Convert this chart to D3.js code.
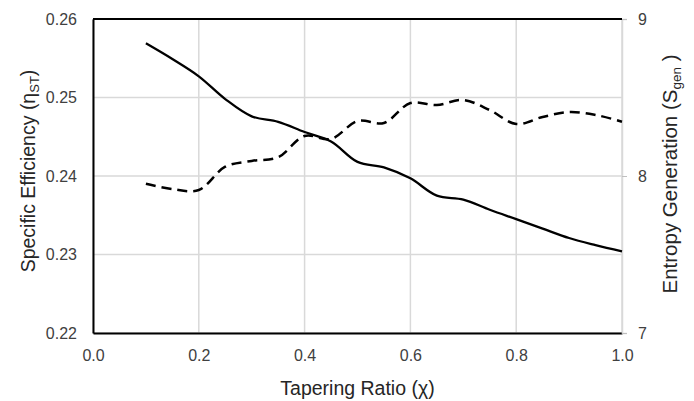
<!DOCTYPE html>
<html>
<head>
<meta charset="utf-8">
<script src="https://cdn.jsdelivr.net/npm/d3@7/dist/d3.min.js"></script>
<style>
  body { margin: 0; background: #fff; }
  svg text { font-family: "Liberation Sans", Arial, sans-serif; }
</style>
</head>
<body>
<div id="canvas"></div>
<script>
// tapering ratio values
var ratio = [0.1, 0.15, 0.2, 0.25, 0.3, 0.35, 0.4, 0.45, 0.5, 0.55, 0.6, 0.65, 0.7, 0.75, 0.8, 0.85, 0.9, 0.95, 1.0];
// specific efficiency (left axis, solid)
var efficiency = [0.2569, 0.2549, 0.2527, 0.2498, 0.2476, 0.2469, 0.2456, 0.2444, 0.2418, 0.2411, 0.2397, 0.2375, 0.2370, 0.2357, 0.2345, 0.2333, 0.2321, 0.2312, 0.2304];
// entropy generation (right axis, dashed)
var entropy = [7.951, 7.917, 7.911, 8.059, 8.096, 8.120, 8.255, 8.236, 8.350, 8.338, 8.465, 8.452, 8.484, 8.420, 8.331, 8.376, 8.408, 8.389, 8.346];

var xTicks = [0, 0.2, 0.4, 0.6, 0.8, 1.0];
var leftTicks = [0.22, 0.23, 0.24, 0.25, 0.26];
var rightTicks = [7, 8, 9];

var margin = {top: 19, right: 72, bottom: 68, left: 93};
var width = 694 - margin.left - margin.right;
var height = 401 - margin.top - margin.bottom;

var svg = d3.select("#canvas")
            .append("svg")
                .attr("width", 694)
                .attr("height", 401)
            .append("g")
                .attr("transform", "translate(" + margin.left + "," + margin.top + ")");

var xScale = d3.scaleLinear().domain([0, 1]).range([0, width]);
var yLeft = d3.scaleLinear().domain([0.22, 0.26]).range([height, 0]);
var yRight = d3.scaleLinear().domain([7, 9]).range([height, 0]);

// gridlines
svg.append("g")
    .selectAll("line")
    .data(xTicks)
    .enter().append("line")
    .attr("x1", function(d) { return xScale(d); })
    .attr("x2", function(d) { return xScale(d); })
    .attr("y1", 0)
    .attr("y2", height)
    .style("stroke", "#d9d9d9")
    .style("stroke-width", 1.5);

svg.append("g")
    .selectAll("line")
    .data(leftTicks)
    .enter().append("line")
    .attr("x1", 0)
    .attr("x2", width)
    .attr("y1", function(d) { return yLeft(d); })
    .attr("y2", function(d) { return yLeft(d); })
    .style("stroke", "#d9d9d9")
    .style("stroke-width", 1.5);

// x axis
var xAxis = d3.axisBottom(xScale)
    .tickValues(xTicks)
    .tickSize(0)
    .tickPadding(17)
    .tickFormat(d3.format(".1f"));

var gx = svg.append("g")
    .attr("class", "x axis")
    .attr("transform", "translate(0," + height + ")")
    .call(xAxis);
gx.select(".domain").style("stroke", "#000").style("stroke-width", 2);
gx.selectAll("text").attr("font-size", "16px").attr("fill", "#404040");

// left axis
var yAxisL = d3.axisLeft(yLeft)
    .tickValues(leftTicks)
    .tickSize(0)
    .tickPadding(16)
    .tickFormat(d3.format(".2f"));

var gl = svg.append("g")
    .attr("class", "y axis")
    .call(yAxisL);
gl.select(".domain").style("stroke", "#000").style("stroke-width", 2);
gl.selectAll("text").attr("font-size", "16px").attr("fill", "#404040");

// right axis
var yAxisR = d3.axisRight(yRight)
    .tickValues(rightTicks)
    .tickSize(5)
    .tickPadding(11)
    .tickFormat(d3.format("d"));

var gr = svg.append("g")
    .attr("class", "y axis right")
    .attr("transform", "translate(" + width + ",0)")
    .call(yAxisR);
gr.select(".domain").style("stroke", "#d9d9d9").style("stroke-width", 1.5);
gr.selectAll(".tick line").style("stroke", "#bfbfbf");
gr.selectAll("text").attr("font-size", "16px").attr("fill", "#404040");

// top border
svg.append("line")
    .attr("x1", 0)
    .attr("x2", width)
    .attr("y1", 0)
    .attr("y2", 0)
    .style("stroke", "#000")
    .style("stroke-width", 2);

// lines
var pts = ratio.map(function(r, i) { return {x: r, e: efficiency[i], s: entropy[i]}; });

var effLine = d3.line()
    .curve(d3.curveCatmullRom)
    .x(function(d) { return xScale(d.x); })
    .y(function(d) { return yLeft(d.e); });

var entLine = d3.line()
    .curve(d3.curveCatmullRom)
    .x(function(d) { return xScale(d.x); })
    .y(function(d) { return yRight(d.s); });

svg.append("path")
    .datum(pts)
    .attr("d", entLine)
    .style("fill", "none")
    .style("stroke", "#000")
    .style("stroke-width", 2.5)
    .style("stroke-dasharray", "10,6");

svg.append("path")
    .datum(pts)
    .attr("d", effLine)
    .style("fill", "none")
    .style("stroke", "#000")
    .style("stroke-width", 2.3);

// axis titles
svg.append("text")
    .attr("x", width / 2)
    .attr("y", height + 62)
    .style("text-anchor", "middle")
    .attr("font-size", "19.5px")
    .attr("fill", "#262626")
    .text("Tapering Ratio (χ)");

var tl = svg.append("text")
    .attr("transform", "rotate(-90)")
    .attr("x", -height / 2 + 5)
    .attr("y", -58)
    .style("text-anchor", "middle")
    .attr("font-size", "19.5px")
    .attr("fill", "#262626");
tl.append("tspan").text("Specific Efficiency (η");
tl.append("tspan").attr("font-size", "13px").attr("baseline-shift", "-4").text("ST");
tl.append("tspan").text(")");

var tr = svg.append("text")
    .attr("transform", "rotate(-90)")
    .attr("x", -height / 2 + 2)
    .attr("y", width + 55)
    .style("text-anchor", "middle")
    .attr("font-size", "20.5px")
    .attr("fill", "#262626");
tr.append("tspan").text("Entropy Generation (S");
tr.append("tspan").attr("font-size", "13.5px").attr("baseline-shift", "-4").text("gen");
tr.append("tspan").text(" )");
</script>
</body>
</html>
